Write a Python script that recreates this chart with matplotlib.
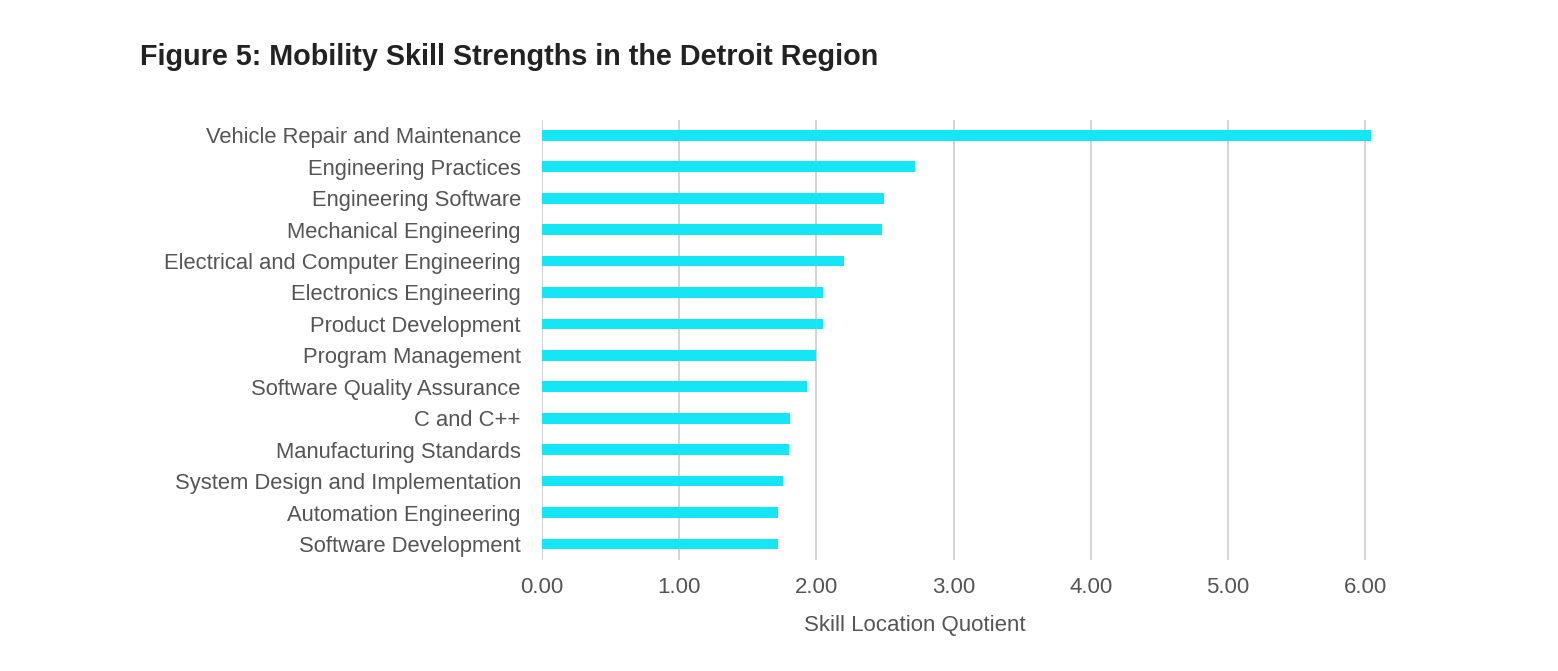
import matplotlib
matplotlib.use("Agg")
import matplotlib.pyplot as plt

categories = [
    "Vehicle Repair and Maintenance",
    "Engineering Practices",
    "Engineering Software",
    "Mechanical Engineering",
    "Electrical and Computer Engineering",
    "Electronics Engineering",
    "Product Development",
    "Program Management",
    "Software Quality Assurance",
    "C and C++",
    "Manufacturing Standards",
    "System Design and Implementation",
    "Automation Engineering",
    "Software Development",
]
values = [6.04, 2.72, 2.49, 2.48, 2.20, 2.05, 2.05, 2.00, 1.93, 1.81, 1.80, 1.76, 1.72, 1.72]
xticks = [0, 1, 2, 3, 4, 5, 6]
xtick_labels = ["0.00", "1.00", "2.00", "3.00", "4.00", "5.00", "6.00"]

plt.rcParams['font.family'] = ['Liberation Sans', 'DejaVu Sans']

W, H = 1558, 671
fig = plt.figure(figsize=(W / 100, H / 100), dpi=100)
left, right, top, bottom = 541.7, 1379.2, 119.6, 559.7
ax = fig.add_axes([left / W, 1 - bottom / H, (right - left) / W, (bottom - top) / H])

ypos = list(range(len(categories)))
ax.barh(ypos, values, height=0.34, color="#14E6F5", zorder=3)
ax.set_ylim(len(categories) - 0.5, -0.5)
ax.set_xlim(0, 6.1)
ax.set_yticks(ypos)
ax.set_yticklabels(categories, fontsize=15.8, color="#555555")
ax.set_xticks(xticks)
ax.set_xticklabels(xtick_labels, fontsize=16, color="#555555")
ax.tick_params(axis="both", length=0)
ax.tick_params(axis="y", pad=15)
ax.tick_params(axis="x", pad=12.5)
ax.grid(axis="x", color="#d4d4d4", linewidth=1.4, zorder=0)
for s in ax.spines.values():
    s.set_visible(False)

ax.set_xlabel("Skill Location Quotient", fontsize=16, color="#555555")
ax.xaxis.set_label_coords((915 - left) / (right - left), -(625 - bottom) / (bottom - top))
ax.xaxis.label.set_va("center")

fig.text(140 / W, 1 - 57 / H, "Figure 5: Mobility Skill Strengths in the Detroit Region",
         fontsize=20.7, fontweight="bold", color="#222222", ha="left", va="center")

fig.savefig("out.png", dpi=100, facecolor="white")
